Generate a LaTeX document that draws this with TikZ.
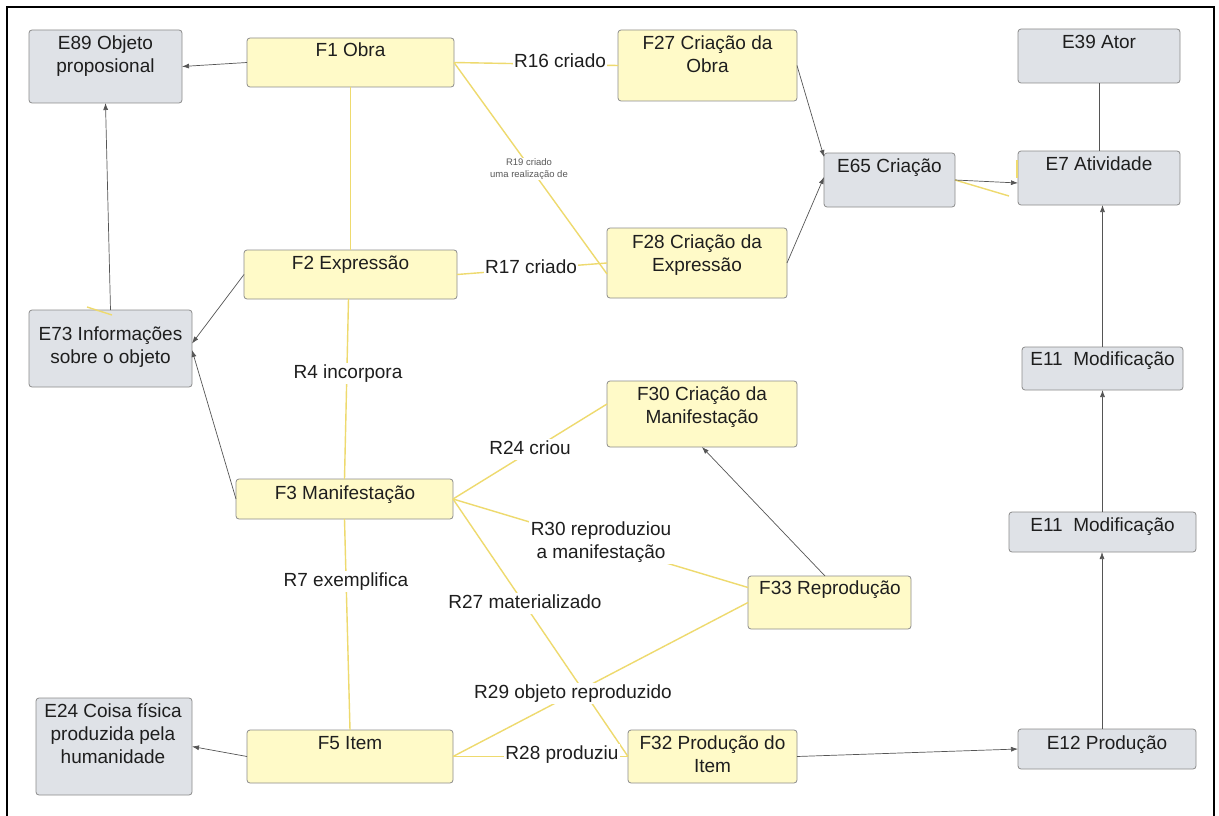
\documentclass[tikz,border=0pt]{standalone}
\usepackage{fontspec}
\setmainfont{Liberation Sans}
\usetikzlibrary{arrows.meta}
\definecolor{yfill}{RGB}{255,250,200}
\definecolor{gfill}{RGB}{223,226,231}
\definecolor{bdr}{RGB}{140,140,140}
\definecolor{yline}{RGB}{238,218,110}
\definecolor{aline}{RGB}{85,85,85}
\definecolor{txtc}{RGB}{30,30,30}
\begin{document}
\begin{tikzpicture}[x=1pt,y=-1pt,
 box/.style={draw=bdr, line width=0.8pt, rounded corners=3pt, inner sep=0pt, outer sep=0pt},
 ybox/.style={box, fill=yfill},
 gbox/.style={box, fill=gfill},
 txt/.style={anchor=north, inner sep=0pt, align=center, font=\fontsize{19}{23}\selectfont, text=txtc},
 lbl/.style={fill=white, inner sep=1.5pt, text height=14pt, text depth=4pt, font=\fontsize{19}{23}\selectfont, text=txtc},
 lbltwo/.style={fill=white, inner sep=1.5pt, align=center, font=\fontsize{19}{23}\selectfont, text=txtc},
 slbl/.style={fill=white, inner sep=1pt, align=center, font=\fontsize{9.5}{12}\selectfont, text=black!65},
 yl/.style={draw=yline, line width=1.4pt},
 ar/.style={draw=aline, line width=0.7pt, -{Latex[length=7pt,width=5pt]}},
 gl/.style={draw=aline, line width=0.7pt}]
\fill[white] (0,0) rectangle (1219,816);
\useasboundingbox (0,0) rectangle (1219,816);
\draw[black, line width=2pt] (7,816) -- (7,7) -- (1214,7) -- (1214,816);

% boxes
\node[gbox, minimum width=153pt, minimum height=73pt] (e89) at (105.5,66.5) {};
\node[ybox, minimum width=207pt, minimum height=49pt] (f1) at (350.5,62.5) {};
\node[ybox, minimum width=179pt, minimum height=71pt] (f27) at (707.5,65.5) {};
\node[gbox, minimum width=162pt, minimum height=54pt] (e39) at (1099,56) {};
\node[gbox, minimum width=131pt, minimum height=54pt] (e65) at (889.5,180) {};
\node[gbox, minimum width=162pt, minimum height=54pt] (e7) at (1099,178) {};
\node[ybox, minimum width=180pt, minimum height=70pt] (f28) at (697,263) {};
\node[ybox, minimum width=213pt, minimum height=49pt] (f2) at (350.5,274.5) {};
\node[gbox, minimum width=163pt, minimum height=77pt] (e73) at (110.5,348.5) {};
\node[gbox, minimum width=161pt, minimum height=43pt] (e11a) at (1102.5,368.5) {};
\node[ybox, minimum width=190pt, minimum height=66pt] (f30) at (702,414) {};
\node[ybox, minimum width=217pt, minimum height=40pt] (f3) at (344.5,499) {};
\node[gbox, minimum width=187pt, minimum height=40pt] (e11b) at (1102.5,532) {};
\node[ybox, minimum width=163pt, minimum height=53pt] (f33) at (829.5,602.5) {};
\node[gbox, minimum width=156pt, minimum height=97pt] (e24) at (114,746.5) {};
\node[ybox, minimum width=206pt, minimum height=53pt] (f5) at (350,756.5) {};
\node[ybox, minimum width=169pt, minimum height=53pt] (f32) at (712.5,756.5) {};
\node[gbox, minimum width=178pt, minimum height=40pt] (e12) at (1107,749) {};

% box texts
\node[txt] (e89t) at (105.5,33.7) {\strut E89 Objeto\\proposional};
\node[txt] (f1t) at (350.5,40.7) {\strut F1 Obra};
\node[txt] (f27t) at (707.5,33.7) {\strut F27 Criação da\\Obra};
\node[txt] (e39t) at (1099,32.7) {\strut E39 Ator};
\node[txt] (e65t) at (889.5,155.7) {\strut E65 Criação};
\node[txt] (e7t) at (1099,153.7) {\strut E7 Atividade};
\node[txt] (f28t) at (697,231.7) {\strut F28 Criação da\\Expressão};
\node[txt] (f2t) at (350.5,252.7) {\strut F2 Expressão};
\node[txt] (e73t) at (110.5,323.7) {\strut E73 Informações\\sobre o objeto};
\node[txt] (e11at) at (1102.5,348.7) {\strut E11~~Modificação};
\node[txt] (f30t) at (702,383.7) {\strut F30 Criação da\\Manifestação};
\node[txt] (f3t) at (345,482.7) {\strut F3 Manifestação};
\node[txt] (e11bt) at (1102.5,514.7) {\strut E11~~Modificação};
\node[txt] (f33t) at (830,577.7) {\strut F33 Reprodução};
\node[txt] (e24t) at (113,700.7) {\strut E24 Coisa física\\produzida pela\\humanidade};
\node[txt] (f5t) at (350,732.7) {\strut F5 Item};
\node[txt] (f32t) at (712.5,732.7) {\strut F32 Produção do\\Item};
\node[txt] (e12t) at (1107,732.7) {\strut E12 Produção};

% free-end coordinates of stray yellow strokes
\coordinate (s1) at (1009,196);
\coordinate (s2a) at (1017,160);
\coordinate (s2b) at (1017,178);
\coordinate (s3a) at (87,307);
\coordinate (s3b) at (112,315);

% yellow relation lines
\draw[yl] (f1.east) -- (f27.west);
\draw[yl] (f1.east) -- ([yshift=-11pt]f28.west);
\draw[yl] (f2.east) -- (f28.west);
\draw[yl] (f1.south) -- (f2.north);
\draw[yl] ([xshift=-2pt]f2.south) -- (f3.north);
\draw[yl] (f3.south) -- (f5.north);
\draw[yl] (f3.east) -- ([yshift=10pt]f30.west);
\draw[yl] (f3.east) -- ([yshift=15pt]f33.west);
\draw[yl] (f3.east) -- (f32.west);
\draw[yl] (f5.east) -- (f32.west);
\draw[yl] (f5.east) -- (f33.west);
\draw[yl] (e65.east) -- (s1);
\draw[yl] (s2a) -- (s2b);
\draw[yl] (s3a) -- (s3b);

% gray arrows
\draw[ar] (f1.west) -- (e89.east);
\draw[ar] (e73.north) -- (e89.south);
\draw[ar] (f2.west) -- ([yshift=5pt]e73.east);
\draw[ar] (f3.west) -- ([yshift=-1.5pt]e73.east);
\draw[ar] (f5.west) -- (e24.east);
\draw[ar] (f27.east) -- ([yshift=-4pt]e65.north west);
\draw[ar] (f28.east) -- ([yshift=3pt]e65.west);
\draw[ar] (e65.east) -- ([yshift=-5pt]e7.west);
\draw[gl] (e39.south) -- (e7.north);
\draw[ar] (e11a.north) -- ([xshift=3.5pt]e7.south);
\draw[ar] (e11b.north) -- (e11a.south);
\draw[ar] ([xshift=-5pt]e12.north) -- ([xshift=-0.5pt]e11b.south);
\draw[ar] (f32.east) -- (e12.west);
\draw[ar] ([xshift=-4.5pt]f33.north) -- (f30.south);

% relation labels
\node[lbl] (r16) at (560,62.8) {R16 criado};
\node[lbl] (r17) at (531,268.8) {R17 criado};
\node[slbl] (r19) at (529,169) {R19 criado\\uma realização de};
\node[lbl] (r4) at (348,373.8) {R4 incorpora};
\node[lbl] (r7) at (346,581.8) {R7 exemplifica};
\node[lbl] (r24) at (530,449.8) {R24 criou};
\node[lbltwo] (r30) at (601,542) {R30 reproduziou\\a manifestação};
\node[lbl] (r27) at (525,603.8) {R27 materializado};
\node[lbl] (r29) at (573,693.8) {R29 objeto reproduzido};
\node[lbl] (r28) at (562,754.8) {R28 produziu};
\end{tikzpicture}
\end{document}
